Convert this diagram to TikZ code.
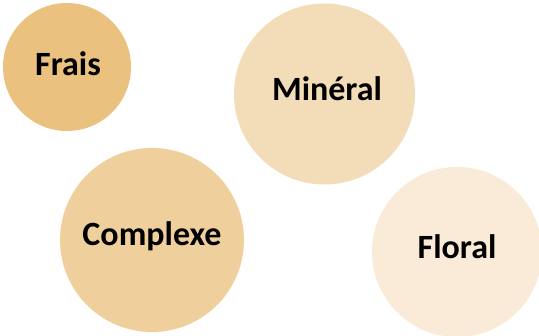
\documentclass[tikz,border=0pt]{standalone}
\usepackage{fontspec}
\setmainfont{Carlito}
\definecolor{cfrais}{HTML}{EBC17F}
\definecolor{cmineral}{HTML}{F3DCB8}
\definecolor{ccomplexe}{HTML}{EFCF9C}
\definecolor{cfloral}{HTML}{FAEAD8}
\begin{document}
\begin{tikzpicture}[x=1pt,y=1pt,
  bubble/.style={circle,inner sep=0pt,draw=none},
  lbl/.style={anchor=base,font=\fontsize{34}{37}\selectfont\bfseries,text=black,inner sep=0pt}]
\useasboundingbox (0,0) rectangle (539,336);
\node[bubble,fill=cfrais,minimum size=128pt] (frais) at (67,269) {};
\node[bubble,fill=cmineral,minimum size=181pt] (mineral) at (324.5,242) {};
\node[bubble,fill=ccomplexe,minimum size=184pt] (complexe) at (152,96) {};
\node[bubble,fill=cfloral,minimum size=170pt] (floral) at (457,84) {};
\node[lbl] (tfrais) at (68,260) {Frais};
\node[lbl] (tmineral) at (327,235) {Minéral};
\node[lbl] (tcomplexe) at (152,90) {Complexe};
\node[lbl] (tfloral) at (457,77) {Floral};
\end{tikzpicture}
\end{document}
